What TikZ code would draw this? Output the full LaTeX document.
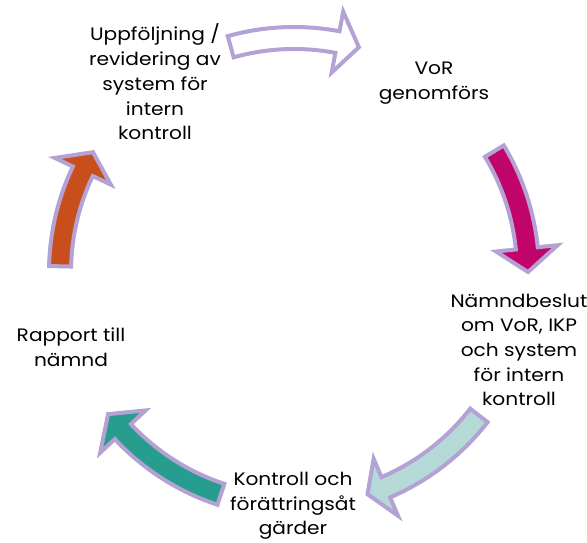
\documentclass[tikz,border=0pt]{standalone}
\usepackage{fontspec}
\setmainfont{Poppins}[FakeStretch=1.12]
\usetikzlibrary{calc}
\definecolor{lila}{HTML}{B4A2D4}
\definecolor{rosa}{HTML}{C0046A}
\definecolor{turkos}{HTML}{279D90}
\definecolor{ljusturkos}{HTML}{B4D9D6}
\definecolor{rost}{HTML}{C84F1C}
\newcommand{\cykelpil}[4]{\draw[draw=lila,line width=4pt,fill=#1]
   ($(M)+(#2:223pt)$) arc[start angle=#2,end angle=#3,radius=223pt]
   -- ($(M)+(#3:203pt)$) -- ($(M)+(#4:234pt)$) -- ($(M)+(#3:265pt)$)
   -- ($(M)+(#3:245pt)$) arc[start angle=#3,end angle=#2,radius=245pt]
   -- cycle;
}
\begin{document}
\begin{tikzpicture}[x=1pt,y=1pt,every node/.style={align=center,inner sep=0pt,
    font=\fontsize{18}{24.7}\selectfont}]
 \useasboundingbox (0,0) rectangle (587,542);
 \coordinate (M) at (294,270);

 \draw (155,460) node (A) {Uppföljning /\\revidering av\\system för\\intern\\kontroll};
 \draw (434,459) node (B) {VoR\\genomförs};
 \draw (519,192) node (C) {Nämndbeslut\\om VoR, IKP\\och system\\för intern\\kontroll};
 \draw (293,36) node (D) {Kontroll och\\förättringsåt\\gärder};
 \draw (71,195) node (E) {Rapport till\\nämnd};

 \cykelpil{white}{105.7}{79.3}{73.9}
 \cykelpil{rosa}{31.1}{5.8}{0}
 \cykelpil{ljusturkos}{-37.8}{-66.9}{-71.7}
 \cykelpil{turkos}{-108.2}{-137}{-142.6}
 \cykelpil{rost}{178.6}{154.5}{149.2}

\end{tikzpicture}
\end{document}
